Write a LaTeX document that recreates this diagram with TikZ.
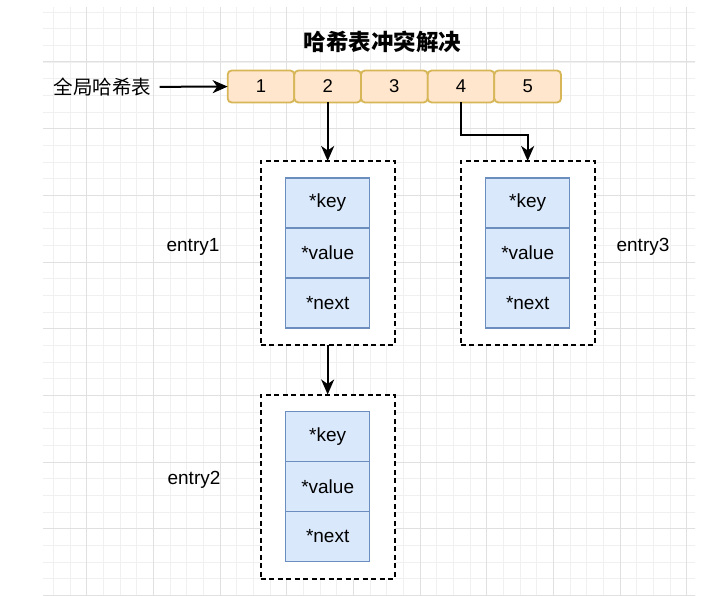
\documentclass[tikz,border=0pt]{standalone}
\usepackage{fontspec}
\setmainfont{Liberation Sans}
\newfontfamily\cjk{Noto Sans CJK SC}
\usetikzlibrary{arrows.meta,positioning}
\definecolor{slotfill}{HTML}{FFE6CC}
\definecolor{slotdraw}{HTML}{D6B656}
\definecolor{fieldfill}{HTML}{DAE8FC}
\definecolor{fielddraw}{HTML}{6C8EBF}
\definecolor{gridminor}{HTML}{F0F0F0}
\definecolor{gridmajor}{HTML}{E0E0E0}
\tikzset{every picture/.style={line width=2pt, x=1pt, y=-1pt}}
\tikzset{
  slot/.style={draw=slotdraw, fill=slotfill, rounded corners=4pt, line width=1.8pt,
               minimum width=66.67pt, minimum height=32pt,
               inner sep=0pt, outer sep=0pt, font=\fontsize{18.5}{20}\selectfont},
  field/.style={draw=fielddraw, fill=fieldfill, line width=1.5pt,
                minimum width=84pt, minimum height=50pt,
                inner sep=0pt, outer sep=0pt, font=\fontsize{19}{20}\selectfont},
  entrybox/.style={draw, fill=white, dash pattern=on 5pt off 3.5pt,
                   minimum width=134pt, minimum height=184pt,
                   inner sep=0pt, outer sep=0pt},
  label/.style={font=\fontsize{19}{20}\selectfont},
  link/.style={-{Stealth[length=15pt,width=13pt,inset=4.5pt]}},
}
\def\w{66.67} % width of one slot = one major grid step

\begin{document}
\begin{tikzpicture}
  \useasboundingbox (0,0) rectangle (726,596);
  % background grid
  \begin{scope}
    \clip (43,8) rectangle (695,595);
    \foreach \i in {0,...,40} {
      \draw[gridminor, line width=0.8pt] (36.67+\i*16.667,0) -- ++(0,600);
      \draw[gridminor, line width=0.8pt] (0,-4.67+\i*16.667) -- ++(730,0);
    };
    \foreach \i in {0,...,9} {
      \draw[gridmajor, line width=1pt] (86.67+\i*\w,0) -- ++(0,600);
      \draw[gridmajor, line width=1pt] (0,-4.67+\i*\w) -- ++(730,0);
    };
  \end{scope}
  % title
  \node[font=\cjk\bfseries\fontsize{22.5}{24}\selectfont] (title) at (382.5,42) {哈希表冲突解决};
  % hash table slots
  \foreach \x [count=\p] in {0,...,4} {
      \node[slot] (c\p) at (261+\x*\w,86.5) {\p};
  };
  \node[font=\cjk\fontsize{19.5}{22}\selectfont] (global) at (102.5,87) {全局哈希表};
  \draw[link, shorten <=4pt] (global) -- (c1);
  % entries
  \node[entrybox] (box1) at (327.67,253) {};
  \node[entrybox] (box3) at (527.67,253) {};
  \node[entrybox] (box2) at (327.67,486.5) {};
  \foreach \e/\y in {1/203, 3/203, 2/436.5} {
      \node[field] (key\e) at (box\e.center |- 0,\y) {*key};
      \node[field, below=0pt of key\e] (value\e) {*value};
      \node[field, below=0pt of value\e] (next\e) {*next};
  };
  \node[label] (entry1) at (193,246.5) {entry1};
  \node[label] (entry3) at (643,246.5) {entry3};
  \node[label] (entry2) at (194,480) {entry2};
  % links
  \draw[link] (c2.south) -- (box1.north);
  \draw[link] (c4.south) -- ++(0,33) -| (box3.north);
  \draw[link] (box1.south) -- (box2.north);
\end{tikzpicture}
\end{document}
